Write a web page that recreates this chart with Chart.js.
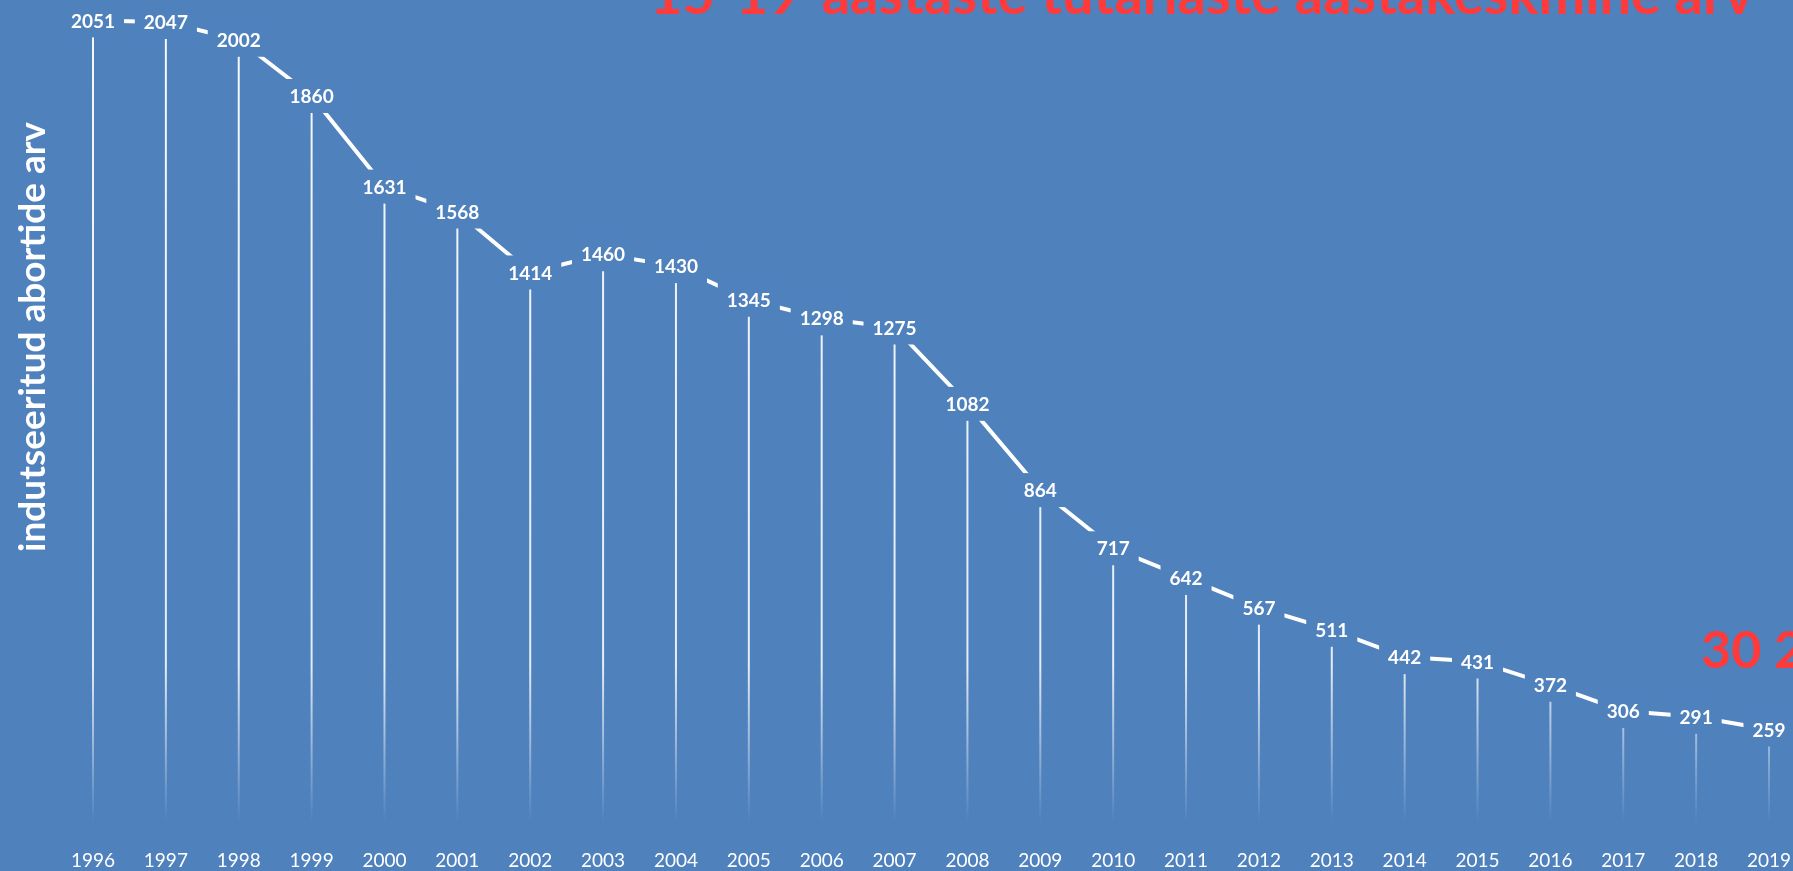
<!DOCTYPE html>
<html>
<head>
<meta charset="utf-8">
<script src="https://cdn.jsdelivr.net/npm/chart.js@4.4.1/dist/chart.umd.min.js"></script>
<style>
  html, body { margin: 0; padding: 0; background: #4f81bd; overflow: hidden; }
  #wrap { position: relative; width: 1793px; height: 871px; }
</style>
</head>
<body>
<div id="wrap"><canvas id="chart" width="1793" height="871"></canvas></div>
<script>
// data
const years = ["1996", "1997", "1998", "1999", "2000", "2001", "2002", "2003", "2004", "2005", "2006", "2007",
               "2008", "2009", "2010", "2011", "2012", "2013", "2014", "2015", "2016", "2017", "2018", "2019"];
const abortions = [2051, 2047, 2002, 1860, 1631, 1568, 1414, 1460, 1430, 1345, 1298, 1275,
                   1082, 864, 717, 642, 567, 511, 442, 431, 372, 306, 291, 259];
const yMin = 0;
const yMax = 2100;

const axisTitle = "indutseeritud abortide arv";
const topTitle = "15-19-aastaste tütarlaste aastakeskmine arv";
const sideNote = "30 2";

const BG = "#4f81bd";
const RED = "#ff3a3a";
const FONT = "Lato, 'Open Sans', sans-serif";

const decor = {
    id: "decor",
    beforeDatasetsDraw(chart) {
        const { ctx, chartArea } = chart;
        const meta = chart.getDatasetMeta(0);
        const g = ctx.createLinearGradient(0, chartArea.top, 0, chartArea.bottom);
        g.addColorStop(0, "rgba(255,255,255,0.95)");
        g.addColorStop(0.8, "rgba(255,255,255,0.85)");
        g.addColorStop(0.99, "rgba(255,255,255,0)");
        ctx.save();
        ctx.strokeStyle = g;
        ctx.lineWidth = 2;
        meta.data.forEach(p => {
            ctx.beginPath();
            ctx.moveTo(p.x, p.y);
            ctx.lineTo(p.x, chartArea.bottom - 6);
            ctx.stroke();
        });
        ctx.restore();
    },
    afterDatasetsDraw(chart) {
        const { ctx } = chart;
        const meta = chart.getDatasetMeta(0);
        ctx.save();
        ctx.font = "bold 19px " + FONT;
        ctx.textAlign = "center";
        ctx.textBaseline = "middle";
        meta.data.forEach((p, i) => {
            const txt = String(abortions[i]);
            const w = ctx.measureText(txt).width;
            ctx.fillStyle = BG;
            ctx.fillRect(p.x - w / 2 - 9, p.y - 17, w + 18, 34);
            ctx.fillStyle = "#ffffff";
            ctx.fillText(txt, p.x, p.y + 1);
        });
        ctx.restore();
    },
    afterDraw(chart) {
        const { ctx } = chart;
        ctx.save();
        // y axis title
        ctx.fillStyle = "#ffffff";
        ctx.font = "bold 37px " + FONT;
        ctx.textAlign = "center";
        ctx.textBaseline = "middle";
        ctx.translate(33, 337);
        ctx.rotate(-Math.PI / 2);
        ctx.fillText(axisTitle, 0, 0);
        ctx.restore();

        ctx.save();
        ctx.fillStyle = RED;
        ctx.font = "bold 56px " + FONT;
        ctx.textAlign = "left";
        ctx.textBaseline = "alphabetic";
        ctx.fillText(topTitle, 650, 14);
        ctx.font = "bold 52px " + FONT;
        ctx.fillText(sideNote, 1701, 668);
        ctx.restore();
    }
};

const ctx = document.getElementById("chart").getContext("2d");

new Chart(ctx, {
    type: "line",
    data: {
        labels: years,
        datasets: [{
            data: abortions,
            borderColor: "#ffffff",
            borderWidth: 4,
            pointRadius: 0,
            tension: 0,
            clip: false
        }]
    },
    options: {
        responsive: false,
        animation: false,
        layout: { padding: { left: 93, right: 24, top: 1, bottom: 0 } },
        plugins: { legend: { display: false }, tooltip: { enabled: false }, title: { display: false } },
        scales: {
            x: {
                grid: { display: false },
                border: { display: false },
                ticks: {
                    color: "#ffffff",
                    font: { family: FONT, size: 19 },
                    padding: 9,
                    maxRotation: 0,
                    autoSkip: false
                },
                afterFit(scale) {
                    scale.height = 39;
                    scale.paddingLeft = 0;
                    scale.paddingRight = 0;
                }
            },
            y: {
                display: false,
                min: yMin,
                max: yMax
            }
        }
    },
    plugins: [decor]
});
</script>
</body>
</html>
